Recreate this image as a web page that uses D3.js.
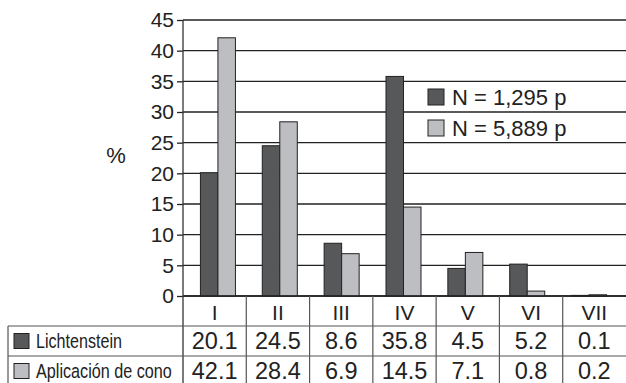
<!DOCTYPE html>
<html><head><meta charset="utf-8">
<script src="https://cdn.jsdelivr.net/npm/d3@7"></script>
<style>body{margin:0;background:#fff}svg{display:block}text{font-family:"Liberation Sans",Arial,sans-serif;fill:#222}</style>
</head><body><svg id="c" width="626" height="383"></svg>
<script>
const categories = ["I","II","III","IV","V","VI","VII"];
const seriesNames = ["Lichtenstein","Aplicación de cono"];
const legendLabels = ["N = 1,295 p","N = 5,889 p"];
const lichtenstein = [20.1,24.5,8.6,35.8,4.5,5.2,0.1];
const cono = [42.1,28.4,6.9,14.5,7.1,0.8,0.2];
const yTicks = [0,5,10,15,20,25,30,35,40,45];
const colors = ["#575859","#bdbec1"];
const series = [lichtenstein, cono];

const svg = d3.select("#c");
const W = 626;
const y = d3.scaleLinear().domain([0,45]).range([296,20]);
const xTable = d3.scaleBand().domain(categories).range([183,626]);
const xBar = d3.scaleBand().domain(categories).range([187,620]).paddingInner(0.434).paddingOuter(0.217);
const xSub = d3.scaleBand().domain([0,1]).range([0,xBar.bandwidth()]);

svg.append("g").selectAll("line").data(yTicks).join("line")
  .attr("x1",183).attr("x2",W).attr("y1",d=>y(d)).attr("y2",d=>y(d))
  .attr("stroke","#222").attr("stroke-width",1.3);

const yAxis = d3.axisLeft(y).tickValues(yTicks).tickSize(6).tickPadding(3);
const ga = svg.append("g").attr("transform","translate(183,0)").call(yAxis);
ga.select(".domain").remove();
ga.selectAll(".tick line").attr("stroke","#222").attr("stroke-width",1.3);
ga.selectAll(".tick text").attr("font-size",21).attr("fill","#222").attr("font-family","Liberation Sans, Arial, sans-serif");

series.forEach((s,si)=>{
  svg.append("g").selectAll("rect").data(s).join("rect")
    .attr("x",(d,i)=>xBar(categories[i])+xSub(si))
    .attr("y",d=>y(d))
    .attr("width",xSub.bandwidth())
    .attr("height",d=>y(0)-y(d))
    .attr("fill",colors[si]).attr("stroke","#222").attr("stroke-width",1);
});

svg.append("line").attr("x1",183).attr("x2",W).attr("y1",y(0)).attr("y2",y(0)).attr("stroke","#222").attr("stroke-width",1.3);
svg.append("line").attr("x1",183).attr("x2",183).attr("y1",20).attr("y2",383).attr("stroke","#333").attr("stroke-width",1.3);

svg.append("text").attr("x",116).attr("y",155).attr("text-anchor","middle").attr("dominant-baseline","central").attr("font-size",22).text("%");

legendLabels.forEach((l,i)=>{
  const cy = 97 + i*31;
  svg.append("rect").attr("x",428).attr("y",cy-8).attr("width",16).attr("height",16)
    .attr("fill",colors[i]).attr("stroke","#222").attr("stroke-width",1);
  svg.append("text").attr("x",452).attr("y",cy).attr("dominant-baseline","central").attr("font-size",22).text(l);
});

const rowLines = [326,356];
const tg = svg.append("g");
rowLines.forEach(ry=>{
  tg.append("line").attr("x1",8).attr("x2",W).attr("y1",ry).attr("y2",ry).attr("stroke","#555").attr("stroke-width",1.2);
});
tg.append("line").attr("x1",8).attr("x2",8).attr("y1",326).attr("y2",383).attr("stroke","#555").attr("stroke-width",1.2);
categories.forEach((c,i)=>{
  if(i>0) tg.append("line").attr("x1",xTable(c)).attr("x2",xTable(c)).attr("y1",296).attr("y2",383).attr("stroke","#555").attr("stroke-width",1.2);
});
tg.selectAll("text.cat").data(categories).join("text").attr("class","cat")
  .attr("x",d=>xTable(d)+xTable.bandwidth()/2).attr("y",312).attr("text-anchor","middle").attr("dominant-baseline","central")
  .attr("font-size",21).text(d=>d);
const labelLens = [86,136];
series.forEach((s,si)=>{
  const cy = si===0 ? 341 : 371;
  tg.append("rect").attr("x",14).attr("y",cy-7.5).attr("width",15).attr("height",15).attr("fill",colors[si]).attr("stroke","#222").attr("stroke-width",1);
  const t = tg.append("text").attr("x",0).attr("y",0).attr("dominant-baseline","central").attr("font-size",19.5)
    .text(seriesNames[si]);
  const len = t.node().getComputedTextLength();
  t.attr("transform",`translate(36,${cy}) scale(${labelLens[si]/len},1)`);
  tg.selectAll(null).data(s).join("text")
    .attr("x",(d,i)=>xTable(categories[i])+xTable.bandwidth()/2).attr("y",cy).attr("text-anchor","middle").attr("dominant-baseline","central")
    .attr("font-size",23.5).text(d=>d.toFixed(1));
});
</script></body></html>
